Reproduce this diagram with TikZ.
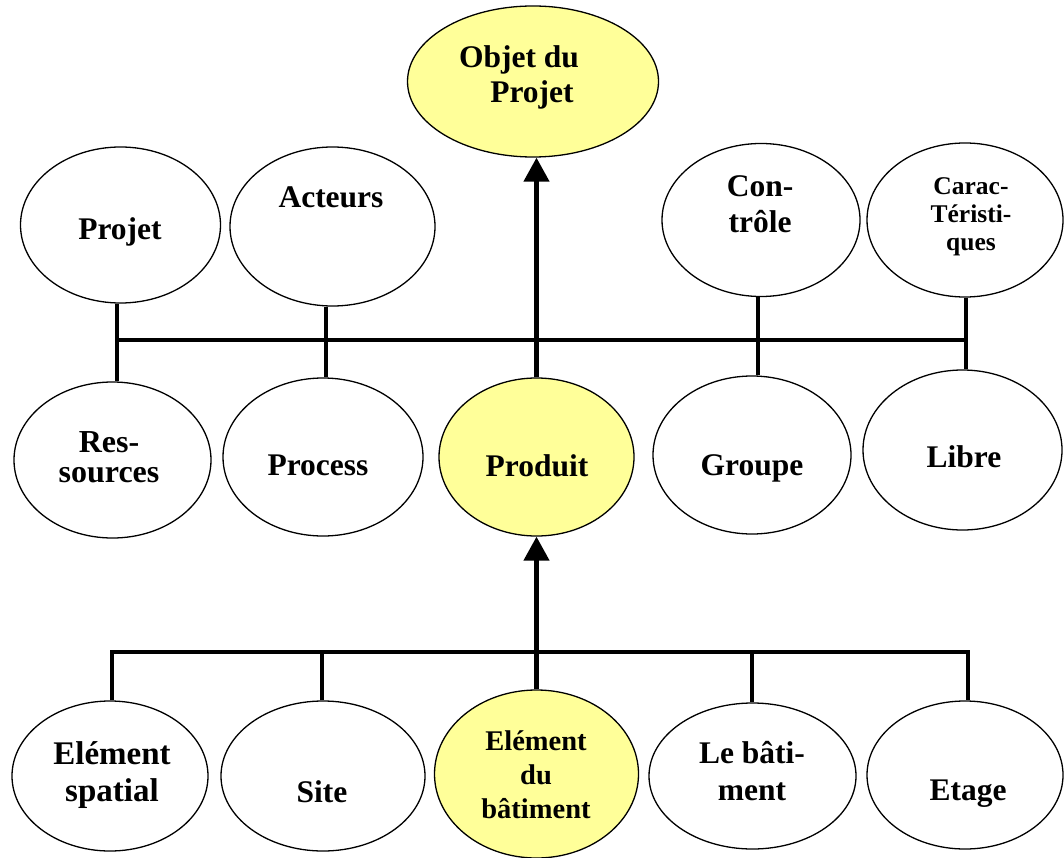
\documentclass[tikz,border=0pt]{standalone}
\usepackage{fontspec}
\setmainfont{Liberation Serif}
\usetikzlibrary{shapes.geometric,arrows.meta,backgrounds}
\definecolor{paleyellow}{HTML}{FFFF99}
\begin{document}
\begin{tikzpicture}[x=1pt,y=-1pt,
  oval/.style={ellipse,draw=black,line width=1.3pt,fill=white,inner sep=0pt},
  hl/.style={fill=paleyellow},
  lbl/.style={font=\bfseries\fontsize{31.5}{36}\selectfont,align=center,anchor=base,inner sep=0pt},
  conn/.style={line width=4.5pt},
  arr/.style={conn,-{Triangle[width=25pt,length=24pt]}}]
\useasboundingbox (0,0) rectangle (1064,858);

% top: the object of the project
\node[oval,hl,minimum width=251pt,minimum height=151pt] (objet) at (533,81.5) {};
% multi-line labels are placed by the baseline of their last line
\node[lbl,font=\bfseries\fontsize{31.5}{35}\selectfont] (objetT) at (519,103) {Objet du\\\hspace*{26pt}Projet};

% first row of views
\node[oval,minimum width=200pt,minimum height=156pt] (projet) at (120.5,225) {};
\node[oval,minimum width=205pt,minimum height=159pt] (acteurs) at (332.5,226.5) {};
\node[oval,minimum width=198pt,minimum height=153pt] (controle) at (761,220) {};
\node[oval,minimum width=196pt,minimum height=154pt] (carac) at (965,220) {};
\node[lbl] (projetT) at (120,240) {Projet};
\node[lbl] (acteursT) at (331,208) {Acteurs};
\node[lbl] (controleT) at (760,233) {Con-\\trôle};
\node[lbl,font=\bfseries\fontsize{25.5}{28}\selectfont] (caracT) at (971,251) {Carac-\\Téristi-\\ques};

% second row of views
\node[oval,minimum width=197pt,minimum height=156pt] (res) at (112.5,460) {};
\node[oval,minimum width=200pt,minimum height=158pt] (process) at (323,457) {};
\node[oval,hl,minimum width=195pt,minimum height=158pt] (produit) at (536.5,457) {};
\node[oval,minimum width=198pt,minimum height=158pt] (groupe) at (752,455) {};
\node[oval,minimum width=199pt,minimum height=160pt] (libre) at (962.5,450) {};
\node[lbl,font=\bfseries\fontsize{32}{30}\selectfont] (resT) at (109,482) {Res-\\sources};
\node[lbl] (processT) at (318,475) {Process};
\node[lbl] (produitT) at (537,476) {Produit};
\node[lbl] (groupeT) at (752,475) {Groupe};
\node[lbl] (libreT) at (964,467) {Libre};

% bottom row: product breakdown
\node[oval,minimum width=196pt,minimum height=150pt] (espatial) at (110,776) {};
\node[oval,minimum width=204pt,minimum height=150pt] (site) at (323,776) {};
\node[oval,hl,minimum width=204pt,minimum height=168pt] (batelem) at (536.5,774) {};
\node[oval,minimum width=207pt,minimum height=146pt] (batiment) at (752.5,776) {};
\node[oval,minimum width=196pt,minimum height=148pt] (etage) at (965,775) {};
\node[lbl,font=\bfseries\fontsize{33}{37}\selectfont] (espatialT) at (112,801) {Elément\\spatial};
\node[lbl] (siteT) at (322,802) {Site};
\node[lbl,font=\bfseries\fontsize{28.5}{34}\selectfont] (batelemT) at (536,818) {Elément\\du\\bâtiment};
\node[lbl,font=\bfseries\fontsize{31.5}{37}\selectfont] (batimentT) at (752,800) {Le bâti-\\ment};
\node[lbl] (etageT) at (968,800) {Etage};

% junction points of the two bus lines
\coordinate (jl) at (117,340);
\coordinate (ja) at (326,340);
\coordinate (jc) at (758,340);
\coordinate (jr) at (966,340);
\coordinate (bl) at (112,652);
\coordinate (bs) at (322,652);
\coordinate (bb) at (752,652);
\coordinate (br) at (968,652);

\begin{scope}[on background layer]
  % upper bus
  \draw[conn] (jl) -- (jr);
  \draw[conn] (projet.south -| jl) -- (res.north -| jl);
  \draw[conn] (acteurs.south -| ja) -- (process.north -| ja);
  \draw[conn] (controle.south -| jc) -- (groupe.north -| jc);
  \draw[conn] (carac.south -| jr) -- (libre.north -| jr);
  \draw[arr] (produit.north) -- (produit.north |- objet.south);
  % lower bus
  \draw[conn] (espatial.north -| bl) -- (bl) -- (br) -- (etage.north -| br);
  \draw[conn] (site.north -| bs) -- (bs);
  \draw[conn] (batiment.north -| bb) -- (bb);
  \draw[arr] (batelem.north) -- (produit.south);
\end{scope}
\end{tikzpicture}
\end{document}
